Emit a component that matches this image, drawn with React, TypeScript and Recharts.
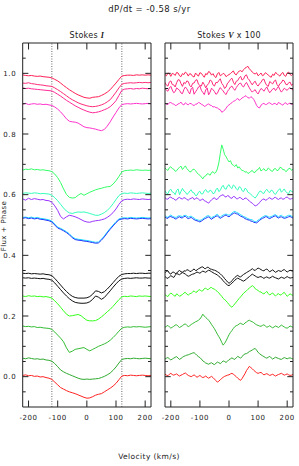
import React from 'react';
import { LineChart, Line, XAxis, YAxis, ReferenceLine } from 'recharts';

// ---------- data ----------
const velocityI = [
  -220, -210, -200, -190, -180, -170, -160, -150, -140, -130,
  -120, -110, -100, -90, -80, -70, -60, -50, -40, -30,
  -20, -10, 0, 10, 20, 30, 40, 50, 60, 70,
  80, 90, 100, 110, 120, 130, 140, 150, 160, 170,
  180, 190, 200, 210, 220,
];
const velocityV = [
  -220, -215, -210, -205, -200, -195, -190, -185, -180, -175,
  -170, -165, -160, -155, -150, -145, -140, -135, -130, -125,
  -120, -115, -110, -105, -100, -95, -90, -85, -80, -75,
  -70, -65, -60, -55, -50, -45, -40, -35, -30, -25,
  -20, -15, -10, -5, 0, 5, 10, 15, 20, 25,
  30, 35, 40, 45, 50, 55, 60, 65, 70, 75,
  80, 85, 90, 95, 100, 105, 110, 115, 120, 125,
  130, 135, 140, 145, 150, 155, 160, 165, 170, 175,
  180, 185, 190, 195, 200, 205, 210, 215, 220,
];

const xTicks = [-200, -100, 0, 100, 200];
const yTicks = [-0.05, 0, 0.05, 0.1, 0.15, 0.2, 0.25, 0.3, 0.35, 0.4, 0.45, 0.5, 0.55, 0.6, 0.65, 0.7, 0.75, 0.8, 0.85, 0.9, 0.95, 1, 1.05];
const vsiniMarks = [-120, 120];

const seriesColors = [
  '#ff1f55', '#ff2a78', '#ff2a96', '#ff33cc', '#33ff66', '#33ffbb', '#9933ff',
  '#22ddff', '#1a33ff', '#111111', '#111111', '#33ff1a', '#33bb33', '#2eaa2e', '#ff2222',
];

// Stokes I (flux + phase)
const i01 = [0.995, 0.993, 0.992, 0.993, 0.991, 0.990, 0.991, 0.989, 0.988, 0.987, 0.985, 0.980, 0.975, 0.968, 0.960, 0.953, 0.946, 0.940, 0.934, 0.929, 0.925, 0.921, 0.919, 0.918, 0.921, 0.922, 0.923, 0.927, 0.932, 0.938, 0.946, 0.957, 0.968, 0.980, 0.991, 0.993, 0.994, 0.994, 0.993, 0.995, 0.994, 0.995, 0.994, 0.995, 0.994];
const i02 = [0.968, 0.967, 0.969, 0.966, 0.965, 0.963, 0.962, 0.961, 0.959, 0.958, 0.957, 0.952, 0.946, 0.940, 0.933, 0.926, 0.919, 0.913, 0.908, 0.903, 0.899, 0.896, 0.893, 0.891, 0.890, 0.891, 0.893, 0.896, 0.900, 0.906, 0.913, 0.925, 0.938, 0.952, 0.964, 0.967, 0.968, 0.969, 0.968, 0.969, 0.970, 0.969, 0.970, 0.969, 0.970];
const i03 = [0.952, 0.950, 0.951, 0.949, 0.948, 0.947, 0.946, 0.945, 0.944, 0.943, 0.942, 0.937, 0.931, 0.925, 0.918, 0.911, 0.905, 0.899, 0.893, 0.888, 0.883, 0.879, 0.875, 0.872, 0.870, 0.871, 0.873, 0.876, 0.880, 0.884, 0.890, 0.899, 0.910, 0.927, 0.944, 0.948, 0.949, 0.950, 0.948, 0.950, 0.949, 0.951, 0.950, 0.949, 0.950];
const i04 = [0.898, 0.901, 0.897, 0.899, 0.900, 0.898, 0.899, 0.897, 0.898, 0.896, 0.894, 0.889, 0.882, 0.873, 0.862, 0.850, 0.842, 0.840, 0.839, 0.836, 0.830, 0.824, 0.821, 0.820, 0.818, 0.816, 0.813, 0.811, 0.815, 0.826, 0.840, 0.856, 0.871, 0.886, 0.897, 0.899, 0.900, 0.899, 0.900, 0.901, 0.900, 0.899, 0.900, 0.901, 0.900];
const i05 = [0.681, 0.684, 0.683, 0.685, 0.682, 0.683, 0.681, 0.682, 0.680, 0.679, 0.676, 0.668, 0.656, 0.640, 0.619, 0.601, 0.591, 0.589, 0.590, 0.598, 0.604, 0.598, 0.603, 0.608, 0.612, 0.616, 0.619, 0.621, 0.624, 0.626, 0.627, 0.635, 0.646, 0.660, 0.675, 0.679, 0.680, 0.681, 0.680, 0.682, 0.681, 0.680, 0.681, 0.680, 0.681];
const i06 = [0.604, 0.606, 0.605, 0.604, 0.606, 0.605, 0.603, 0.604, 0.603, 0.602, 0.598, 0.590, 0.580, 0.568, 0.556, 0.546, 0.540, 0.538, 0.541, 0.543, 0.542, 0.543, 0.541, 0.538, 0.535, 0.532, 0.532, 0.536, 0.541, 0.548, 0.558, 0.570, 0.584, 0.597, 0.604, 0.605, 0.604, 0.606, 0.605, 0.604, 0.605, 0.606, 0.605, 0.604, 0.605];
const i07 = [0.586, 0.582, 0.588, 0.584, 0.587, 0.585, 0.583, 0.584, 0.581, 0.580, 0.575, 0.563, 0.548, 0.528, 0.520, 0.527, 0.532, 0.530, 0.527, 0.523, 0.518, 0.513, 0.510, 0.509, 0.512, 0.514, 0.515, 0.517, 0.520, 0.525, 0.532, 0.541, 0.553, 0.568, 0.580, 0.584, 0.585, 0.584, 0.586, 0.585, 0.584, 0.586, 0.585, 0.584, 0.585];
const i08 = [0.525, 0.526, 0.524, 0.526, 0.523, 0.525, 0.522, 0.521, 0.519, 0.517, 0.513, 0.503, 0.493, 0.489, 0.484, 0.478, 0.471, 0.461, 0.455, 0.453, 0.452, 0.450, 0.449, 0.447, 0.445, 0.443, 0.444, 0.453, 0.464, 0.477, 0.489, 0.500, 0.511, 0.520, 0.523, 0.524, 0.523, 0.525, 0.524, 0.523, 0.524, 0.525, 0.524, 0.523, 0.524];
const i09 = [0.522, 0.524, 0.521, 0.523, 0.520, 0.522, 0.519, 0.518, 0.516, 0.514, 0.510, 0.500, 0.490, 0.486, 0.481, 0.475, 0.468, 0.458, 0.452, 0.450, 0.449, 0.447, 0.446, 0.444, 0.442, 0.440, 0.441, 0.450, 0.461, 0.474, 0.486, 0.497, 0.508, 0.517, 0.520, 0.521, 0.520, 0.522, 0.521, 0.520, 0.521, 0.522, 0.521, 0.520, 0.521];
const i10 = [0.341, 0.340, 0.341, 0.339, 0.340, 0.339, 0.338, 0.339, 0.337, 0.336, 0.333, 0.324, 0.313, 0.302, 0.291, 0.281, 0.272, 0.265, 0.261, 0.259, 0.259, 0.259, 0.260, 0.264, 0.272, 0.283, 0.281, 0.276, 0.280, 0.289, 0.299, 0.310, 0.321, 0.331, 0.337, 0.339, 0.340, 0.340, 0.341, 0.340, 0.341, 0.341, 0.340, 0.341, 0.341];
const i11 = [0.326, 0.325, 0.326, 0.324, 0.325, 0.324, 0.323, 0.324, 0.322, 0.321, 0.318, 0.309, 0.298, 0.287, 0.276, 0.266, 0.257, 0.250, 0.245, 0.243, 0.242, 0.242, 0.243, 0.247, 0.255, 0.266, 0.262, 0.255, 0.261, 0.272, 0.283, 0.295, 0.306, 0.316, 0.322, 0.324, 0.325, 0.324, 0.325, 0.326, 0.325, 0.325, 0.326, 0.325, 0.325];
const i12 = [0.266, 0.264, 0.267, 0.265, 0.266, 0.264, 0.265, 0.263, 0.264, 0.262, 0.259, 0.250, 0.240, 0.229, 0.217, 0.206, 0.200, 0.201, 0.203, 0.205, 0.201, 0.193, 0.186, 0.184, 0.184, 0.185, 0.190, 0.197, 0.205, 0.214, 0.222, 0.232, 0.243, 0.254, 0.263, 0.265, 0.264, 0.266, 0.265, 0.264, 0.266, 0.265, 0.266, 0.265, 0.264];
const i13 = [0.167, 0.165, 0.166, 0.164, 0.165, 0.162, 0.163, 0.161, 0.160, 0.159, 0.156, 0.147, 0.137, 0.127, 0.115, 0.095, 0.080, 0.084, 0.090, 0.092, 0.094, 0.096, 0.090, 0.085, 0.090, 0.095, 0.100, 0.104, 0.108, 0.113, 0.120, 0.129, 0.139, 0.150, 0.160, 0.163, 0.164, 0.163, 0.165, 0.164, 0.165, 0.164, 0.163, 0.164, 0.165];
const i14 = [0.061, 0.059, 0.062, 0.060, 0.058, 0.059, 0.057, 0.058, 0.055, 0.054, 0.051, 0.043, 0.033, 0.022, 0.016, 0.011, 0.007, 0.003, -0.001, -0.005, -0.008, -0.009, -0.008, -0.009, -0.008, -0.007, -0.006, -0.003, 0.001, 0.006, 0.012, 0.021, 0.032, 0.045, 0.057, 0.059, 0.060, 0.059, 0.061, 0.060, 0.059, 0.060, 0.061, 0.060, 0.059];
const i15 = [0.004, 0.006, 0.003, 0.004, 0.001, 0.002, -0.001, 0.000, -0.003, -0.005, -0.009, -0.018, -0.027, -0.036, -0.041, -0.046, -0.050, -0.053, -0.056, -0.060, -0.064, -0.068, -0.071, -0.070, -0.066, -0.061, -0.058, -0.056, -0.050, -0.044, -0.038, -0.031, -0.022, -0.010, 0.002, 0.004, 0.003, 0.005, 0.004, 0.003, 0.004, 0.005, 0.004, 0.003, 0.004];

// Stokes V x 100 (+ phase), sampled every 5 km/s
const v01 = [
  0.996, 0.992, 1.001, 0.999, 0.990, 1.000, 0.998, 0.993, 1.003, 1.001,
  0.992, 0.989, 0.999, 0.996, 1.004, 1.000, 0.991, 0.999, 0.997, 0.990,
  0.988, 1.001, 0.995, 0.991, 1.002, 1.000, 0.993, 0.987, 0.999, 0.996,
  1.006, 1.003, 0.994, 0.999, 0.990, 0.986, 0.998, 1.003, 0.992, 0.995,
  1.000, 0.997, 0.989, 0.993, 0.996, 0.999, 1.004, 1.008, 0.998, 0.995,
  1.003, 1.007, 1.009, 1.005, 1.012, 1.017, 1.020, 1.023, 1.015, 1.010,
  1.004, 1.000, 0.998, 1.002, 0.992, 0.996, 1.001, 0.992, 0.995, 1.002,
  0.999, 0.994, 0.990, 0.987, 0.997, 0.993, 1.003, 0.999, 0.994, 0.991,
  0.999, 1.003, 0.993, 0.990, 1.001, 1.004, 0.996, 0.993, 0.998,
];
const v02 = [
  0.970, 0.961, 0.958, 0.972, 0.975, 0.963, 0.962, 0.955, 0.969, 0.979,
  0.978, 0.966, 0.957, 0.970, 0.966, 0.975, 0.973, 0.960, 0.955, 0.967,
  0.968, 0.977, 0.979, 0.964, 0.960, 0.958, 0.971, 0.963, 0.952, 0.961,
  0.966, 0.978, 0.975, 0.962, 0.958, 0.970, 0.969, 0.976, 0.982, 0.967,
  0.961, 0.950, 0.955, 0.968, 0.972, 0.980, 0.984, 0.971, 0.963, 0.974,
  0.976, 0.985, 0.990, 0.978, 0.981, 0.992, 0.995, 0.983, 0.978, 0.969,
  0.962, 0.970, 0.974, 0.963, 0.958, 0.966, 0.970, 0.979, 0.981, 0.968,
  0.960, 0.957, 0.973, 0.969, 0.965, 0.974, 0.978, 0.963, 0.957, 0.966,
  0.969, 0.978, 0.975, 0.964, 0.962, 0.969, 0.971, 0.960, 0.966,
];
const v03 = [
  0.950, 0.944, 0.941, 0.952, 0.957, 0.945, 0.936, 0.940, 0.952, 0.948,
  0.944, 0.935, 0.933, 0.947, 0.955, 0.949, 0.940, 0.932, 0.949, 0.954,
  0.931, 0.939, 0.946, 0.955, 0.958, 0.944, 0.937, 0.930, 0.945, 0.952,
  0.929, 0.938, 0.951, 0.946, 0.940, 0.931, 0.934, 0.945, 0.953, 0.947,
  0.942, 0.934, 0.930, 0.941, 0.947, 0.955, 0.958, 0.950, 0.944, 0.953,
  0.960, 0.966, 0.968, 0.959, 0.955, 0.964, 0.970, 0.961, 0.952, 0.944,
  0.938, 0.943, 0.946, 0.937, 0.932, 0.942, 0.950, 0.947, 0.941, 0.949,
  0.955, 0.944, 0.936, 0.942, 0.948, 0.951, 0.943, 0.950, 0.957, 0.946,
  0.938, 0.944, 0.951, 0.947, 0.944, 0.950, 0.953, 0.948, 0.945,
];
const v04 = [
  0.902, 0.898, 0.897, 0.903, 0.904, 0.900, 0.899, 0.894, 0.895, 0.899,
  0.901, 0.905, 0.898, 0.896, 0.903, 0.899, 0.896, 0.901, 0.900, 0.896,
  0.894, 0.898, 0.899, 0.904, 0.902, 0.898, 0.896, 0.891, 0.893, 0.897,
  0.899, 0.895, 0.894, 0.889, 0.890, 0.887, 0.886, 0.882, 0.880, 0.872,
  0.874, 0.879, 0.885, 0.892, 0.896, 0.900, 0.903, 0.908, 0.909, 0.914,
  0.917, 0.911, 0.914, 0.919, 0.921, 0.926, 0.924, 0.920, 0.918, 0.923,
  0.920, 0.914, 0.905, 0.894, 0.888, 0.886, 0.895, 0.899, 0.901, 0.897,
  0.898, 0.902, 0.903, 0.899, 0.897, 0.901, 0.900, 0.896, 0.904, 0.901,
  0.898, 0.895, 0.901, 0.903, 0.897, 0.900, 0.902, 0.898, 0.899,
];
const v05 = [
  0.688, 0.683, 0.680, 0.689, 0.692, 0.686, 0.684, 0.677, 0.679, 0.686,
  0.690, 0.694, 0.683, 0.689, 0.695, 0.686, 0.681, 0.675, 0.676, 0.683,
  0.684, 0.679, 0.672, 0.667, 0.664, 0.658, 0.652, 0.660, 0.662, 0.669,
  0.668, 0.664, 0.673, 0.676, 0.670, 0.674, 0.685, 0.705, 0.735, 0.764,
  0.750, 0.732, 0.725, 0.716, 0.708, 0.712, 0.700, 0.697, 0.693, 0.699,
  0.688, 0.692, 0.684, 0.680, 0.679, 0.674, 0.676, 0.670, 0.672, 0.677,
  0.680, 0.673, 0.674, 0.681, 0.683, 0.690, 0.678, 0.682, 0.686, 0.679,
  0.680, 0.688, 0.684, 0.678, 0.677, 0.685, 0.686, 0.679, 0.681, 0.690,
  0.689, 0.682, 0.683, 0.676, 0.679, 0.686, 0.687, 0.680, 0.684,
];
const v06 = [
  0.612, 0.605, 0.603, 0.614, 0.618, 0.609, 0.607, 0.600, 0.614, 0.619,
  0.600, 0.611, 0.621, 0.612, 0.609, 0.601, 0.604, 0.612, 0.616, 0.607,
  0.606, 0.597, 0.598, 0.608, 0.611, 0.602, 0.603, 0.613, 0.617, 0.609,
  0.608, 0.615, 0.612, 0.603, 0.605, 0.616, 0.622, 0.610, 0.614, 0.625,
  0.631, 0.620, 0.618, 0.629, 0.633, 0.624, 0.620, 0.632, 0.628, 0.619,
  0.615, 0.626, 0.624, 0.613, 0.610, 0.621, 0.618, 0.608, 0.605, 0.601,
  0.597, 0.592, 0.589, 0.595, 0.603, 0.611, 0.612, 0.605, 0.604, 0.613,
  0.618, 0.610, 0.607, 0.615, 0.613, 0.604, 0.601, 0.609, 0.615, 0.620,
  0.608, 0.613, 0.619, 0.610, 0.606, 0.603, 0.614, 0.611, 0.609,
];
const v07 = [
  0.590, 0.586, 0.585, 0.591, 0.592, 0.588, 0.587, 0.582, 0.583, 0.589,
  0.591, 0.587, 0.586, 0.590, 0.589, 0.584, 0.582, 0.586, 0.588, 0.591,
  0.584, 0.587, 0.590, 0.585, 0.581, 0.583, 0.586, 0.580, 0.578, 0.575,
  0.572, 0.578, 0.583, 0.587, 0.590, 0.584, 0.585, 0.591, 0.596, 0.598,
  0.600, 0.594, 0.592, 0.597, 0.595, 0.589, 0.588, 0.594, 0.593, 0.587,
  0.586, 0.591, 0.590, 0.585, 0.584, 0.589, 0.588, 0.583, 0.579, 0.575,
  0.572, 0.567, 0.563, 0.565, 0.568, 0.574, 0.580, 0.584, 0.586, 0.582,
  0.583, 0.588, 0.590, 0.586, 0.585, 0.590, 0.591, 0.587, 0.584, 0.588,
  0.589, 0.585, 0.586, 0.591, 0.592, 0.588, 0.585, 0.587, 0.589,
];
const v08 = [
  0.531, 0.527, 0.525, 0.530, 0.533, 0.529, 0.527, 0.525, 0.526, 0.530,
  0.530, 0.529, 0.528, 0.531, 0.532, 0.530, 0.526, 0.528, 0.529, 0.526,
  0.523, 0.519, 0.517, 0.516, 0.515, 0.517, 0.520, 0.524, 0.527, 0.530,
  0.531, 0.527, 0.524, 0.527, 0.529, 0.533, 0.535, 0.531, 0.526, 0.530,
  0.533, 0.535, 0.536, 0.534, 0.532, 0.535, 0.539, 0.543, 0.545, 0.542,
  0.540, 0.537, 0.534, 0.531, 0.528, 0.526, 0.524, 0.521, 0.519, 0.518,
  0.517, 0.513, 0.511, 0.512, 0.516, 0.519, 0.523, 0.526, 0.529, 0.531,
  0.530, 0.527, 0.526, 0.528, 0.530, 0.533, 0.534, 0.530, 0.527, 0.530,
  0.532, 0.528, 0.526, 0.527, 0.530, 0.532, 0.532, 0.529, 0.528,
];
const v09 = [
  0.526, 0.523, 0.522, 0.527, 0.528, 0.525, 0.524, 0.520, 0.521, 0.525,
  0.527, 0.524, 0.523, 0.528, 0.529, 0.524, 0.521, 0.523, 0.525, 0.521,
  0.518, 0.515, 0.514, 0.512, 0.510, 0.513, 0.516, 0.520, 0.522, 0.525,
  0.527, 0.522, 0.519, 0.523, 0.525, 0.529, 0.530, 0.526, 0.522, 0.525,
  0.528, 0.531, 0.533, 0.529, 0.527, 0.531, 0.535, 0.538, 0.540, 0.537,
  0.536, 0.532, 0.529, 0.527, 0.525, 0.521, 0.519, 0.517, 0.516, 0.513,
  0.512, 0.509, 0.508, 0.507, 0.511, 0.515, 0.519, 0.522, 0.524, 0.527,
  0.527, 0.523, 0.521, 0.524, 0.526, 0.529, 0.530, 0.526, 0.523, 0.526,
  0.527, 0.524, 0.522, 0.523, 0.525, 0.527, 0.528, 0.525, 0.523,
];
const v10 = [
  0.343, 0.347, 0.349, 0.341, 0.338, 0.344, 0.345, 0.340, 0.341, 0.347,
  0.350, 0.346, 0.344, 0.349, 0.348, 0.352, 0.352, 0.347, 0.347, 0.352,
  0.355, 0.350, 0.351, 0.356, 0.358, 0.361, 0.362, 0.357, 0.356, 0.361,
  0.360, 0.355, 0.354, 0.352, 0.351, 0.349, 0.346, 0.343, 0.339, 0.334,
  0.330, 0.323, 0.318, 0.312, 0.308, 0.311, 0.316, 0.322, 0.327, 0.331,
  0.334, 0.330, 0.329, 0.333, 0.337, 0.340, 0.343, 0.346, 0.349, 0.352,
  0.356, 0.352, 0.350, 0.355, 0.358, 0.356, 0.353, 0.350, 0.349, 0.353,
  0.355, 0.350, 0.346, 0.349, 0.352, 0.348, 0.344, 0.347, 0.350, 0.348,
  0.347, 0.351, 0.353, 0.349, 0.345, 0.348, 0.351, 0.349, 0.348,
];
const v11 = [
  0.330, 0.326, 0.324, 0.329, 0.333, 0.330, 0.327, 0.334, 0.340, 0.338,
  0.336, 0.340, 0.343, 0.341, 0.338, 0.334, 0.331, 0.333, 0.336, 0.338,
  0.339, 0.342, 0.345, 0.343, 0.341, 0.345, 0.348, 0.346, 0.344, 0.348,
  0.351, 0.349, 0.346, 0.343, 0.340, 0.338, 0.335, 0.331, 0.327, 0.322,
  0.316, 0.311, 0.306, 0.302, 0.300, 0.304, 0.308, 0.313, 0.318, 0.322,
  0.325, 0.322, 0.320, 0.317, 0.315, 0.318, 0.322, 0.326, 0.330, 0.334,
  0.338, 0.335, 0.332, 0.329, 0.327, 0.329, 0.330, 0.327, 0.324, 0.327,
  0.329, 0.326, 0.325, 0.328, 0.331, 0.328, 0.326, 0.324, 0.322, 0.325,
  0.328, 0.326, 0.324, 0.327, 0.330, 0.327, 0.325, 0.326, 0.327,
];
const v12 = [
  0.270, 0.267, 0.264, 0.271, 0.276, 0.272, 0.268, 0.265, 0.273, 0.270,
  0.265, 0.268, 0.271, 0.276, 0.278, 0.272, 0.269, 0.273, 0.275, 0.279,
  0.283, 0.278, 0.279, 0.285, 0.287, 0.282, 0.283, 0.290, 0.292, 0.287,
  0.288, 0.293, 0.294, 0.290, 0.289, 0.284, 0.281, 0.276, 0.270, 0.265,
  0.258, 0.254, 0.250, 0.244, 0.238, 0.232, 0.229, 0.234, 0.240, 0.246,
  0.252, 0.258, 0.263, 0.269, 0.275, 0.279, 0.283, 0.288, 0.292, 0.296,
  0.300, 0.297, 0.290, 0.287, 0.284, 0.280, 0.279, 0.275, 0.273, 0.277,
  0.281, 0.274, 0.269, 0.273, 0.276, 0.270, 0.266, 0.271, 0.274, 0.269,
  0.270, 0.275, 0.278, 0.271, 0.265, 0.269, 0.273, 0.270, 0.268,
];
const v13 = [
  0.163, 0.166, 0.169, 0.164, 0.160, 0.163, 0.166, 0.170, 0.171, 0.166,
  0.162, 0.165, 0.168, 0.172, 0.174, 0.169, 0.165, 0.168, 0.172, 0.175,
  0.178, 0.181, 0.183, 0.186, 0.190, 0.197, 0.206, 0.200, 0.195, 0.191,
  0.186, 0.180, 0.172, 0.165, 0.158, 0.149, 0.140, 0.132, 0.124, 0.113,
  0.104, 0.110, 0.118, 0.128, 0.138, 0.146, 0.152, 0.159, 0.165, 0.168,
  0.170, 0.174, 0.176, 0.173, 0.172, 0.177, 0.180, 0.184, 0.186, 0.183,
  0.181, 0.178, 0.174, 0.171, 0.169, 0.167, 0.166, 0.169, 0.171, 0.167,
  0.163, 0.165, 0.168, 0.164, 0.161, 0.164, 0.167, 0.165, 0.162, 0.166,
  0.170, 0.167, 0.164, 0.161, 0.160, 0.163, 0.167, 0.165, 0.163,
];
const v14 = [
  0.058, 0.061, 0.063, 0.059, 0.055, 0.058, 0.061, 0.064, 0.066, 0.061,
  0.057, 0.060, 0.064, 0.067, 0.069, 0.071, 0.072, 0.074, 0.076, 0.078,
  0.079, 0.075, 0.070, 0.066, 0.063, 0.058, 0.052, 0.049, 0.045, 0.043,
  0.041, 0.044, 0.046, 0.042, 0.040, 0.044, 0.048, 0.046, 0.043, 0.047,
  0.052, 0.050, 0.047, 0.051, 0.056, 0.059, 0.062, 0.059, 0.057, 0.062,
  0.067, 0.064, 0.061, 0.066, 0.072, 0.075, 0.076, 0.079, 0.083, 0.085,
  0.088, 0.091, 0.093, 0.087, 0.080, 0.076, 0.072, 0.069, 0.066, 0.063,
  0.061, 0.064, 0.067, 0.062, 0.058, 0.061, 0.064, 0.062, 0.060, 0.058,
  0.057, 0.060, 0.063, 0.061, 0.059, 0.061, 0.062, 0.060, 0.058,
];
const v15 = [
  0.008, 0.005, 0.003, 0.008, 0.011, 0.007, 0.005, 0.007, 0.009, 0.005,
  0.002, 0.005, 0.007, 0.010, 0.012, 0.008, 0.004, 0.002, 0.000, 0.003,
  0.006, 0.002, -0.002, 0.001, 0.004, 0.000, -0.003, -0.001, 0.002, -0.002,
  -0.005, -0.002, 0.001, -0.003, -0.008, -0.013, -0.018, -0.015, -0.010, -0.006,
  -0.002, 0.001, 0.003, 0.005, 0.006, 0.009, 0.011, 0.008, 0.004, 0.000,
  -0.005, -0.009, -0.012, -0.006, 0.002, 0.010, 0.020, 0.027, 0.034, 0.030,
  0.026, 0.021, 0.017, 0.013, 0.011, 0.013, 0.014, 0.010, 0.006, 0.008,
  0.010, 0.007, 0.004, 0.006, 0.008, 0.005, 0.002, 0.005, 0.007, 0.009,
  0.011, 0.008, 0.005, 0.007, 0.009, 0.006, 0.004, 0.005, 0.007,
];

const stokesI = [i01, i02, i03, i04, i05, i06, i07, i08, i09, i10, i11, i12, i13, i14, i15];
const stokesV = [v01, v02, v03, v04, v05, v06, v07, v08, v09, v10, v11, v12, v13, v14, v15];

function buildRows(vel: number[], profiles: number[][]) {
  return vel.map((v, k) => {
    const row: Record<string, number> = { v };
    profiles.forEach((p, j) => {
      row['s' + j] = p[k];
    });
    return row;
  });
}

const rowsI = buildRows(velocityI, stokesI);
const rowsV = buildRows(velocityV, stokesV);

// ---------- styling ----------
const FONT = '"DejaVu Sans", sans-serif';
const INK = '#222';
const W = 299;
const H = 466;
const PLOT_TOP = 43;
const PLOT_BOTTOM = 407;
const AX = 1; // axis band size (must be > 0 for axes to render)

const isMajorY = (v: number) => Math.round(v * 100) % 20 === 0;

function BottomTick(props: any) {
  const { x, y, payload } = props;
  return (
    <g>
      <line x1={x} y1={y} x2={x} y2={y - 6.5} stroke={INK} strokeWidth={1} />
      <text x={x} y={y + 12.5} textAnchor="middle" fontSize={7} fontFamily={FONT} fill={INK} letterSpacing={0.6}>
        {String(payload.value)}
      </text>
    </g>
  );
}

function TopTick(props: any) {
  const { x, y } = props;
  return <line x1={x} y1={y} x2={x} y2={y + 6.5} stroke={INK} strokeWidth={1} />;
}

function LeftTick(props: any) {
  const { x, y, payload, showLabels } = props;
  const major = isMajorY(payload.value);
  return (
    <g>
      <line x1={x} y1={y} x2={x + (major ? 5.7 : 3)} y2={y} stroke={INK} strokeWidth={1} />
      {showLabels && major ? (
        <text x={x - 6.5} y={y + 2.5} textAnchor="end" fontSize={7} fontFamily={FONT} fill={INK} letterSpacing={0.6}>
          {Number(payload.value).toFixed(1)}
        </text>
      ) : null}
    </g>
  );
}

function RightTick(props: any) {
  const { x, y, payload } = props;
  const major = isMajorY(payload.value);
  return <line x1={x} y1={y} x2={x - (major ? 5.7 : 3)} y2={y} stroke={INK} strokeWidth={1} />;
}

function Panel(props: { rows: any[]; plotLeft: number; plotRight: number; labels: boolean; marks: number[] }) {
  const { rows, plotLeft, plotRight, labels, marks } = props;
  const margin = {
    top: PLOT_TOP - AX,
    bottom: H - PLOT_BOTTOM - AX,
    left: plotLeft - AX,
    right: W - plotRight - AX,
  };
  return (
    <div style={{ position: 'absolute', left: 0, top: 0 }}>
      <LineChart width={W} height={H} data={rows} margin={margin}>
        <XAxis xAxisId="b" dataKey="v" type="number" domain={[-220, 220]} allowDataOverflow ticks={xTicks} interval={0}
          height={AX} tickSize={0} tickMargin={0} tickLine={false} axisLine={{ stroke: INK, strokeWidth: 1 }}
          tick={(p: any) => <BottomTick {...p} />} />
        <XAxis xAxisId="t" orientation="top" dataKey="v" type="number" domain={[-220, 220]} allowDataOverflow ticks={xTicks} interval={0}
          height={AX} tickSize={0} tickMargin={0} tickLine={false} axisLine={{ stroke: INK, strokeWidth: 1 }}
          tick={(p: any) => <TopTick {...p} />} />
        <YAxis yAxisId="l" type="number" domain={[-0.1, 1.1]} allowDataOverflow ticks={yTicks} interval={0}
          width={AX} tickSize={0} tickMargin={0} tickLine={false} axisLine={{ stroke: INK, strokeWidth: 1 }}
          tick={(p: any) => <LeftTick {...p} showLabels={labels} />} />
        <YAxis yAxisId="r" orientation="right" type="number" domain={[-0.1, 1.1]} allowDataOverflow ticks={yTicks} interval={0}
          width={AX} tickSize={0} tickMargin={0} tickLine={false} axisLine={{ stroke: INK, strokeWidth: 1 }}
          tick={(p: any) => <RightTick {...p} />} />
        {marks.map((m) => (
          <ReferenceLine key={'m' + m} xAxisId="b" yAxisId="l" x={m} stroke="#444" strokeWidth={0.8} strokeDasharray="1 1.5" />
        ))}
        {seriesColors.map((c, j) => (
          <Line key={'s' + j} xAxisId="b" yAxisId="l" dataKey={'s' + j} stroke={c} strokeWidth={1} dot={false}
            activeDot={false} isAnimationActive={false} type="linear" />
        ))}
      </LineChart>
    </div>
  );
}

export default function App() {
  return (
    <div style={{ position: 'absolute', left: 0, top: 0, width: W, height: H, background: '#fff', overflow: 'hidden' }}>
      <Panel rows={rowsI} plotLeft={22.7} plotRight={151} labels={true} marks={vsiniMarks} />
      <Panel rows={rowsV} plotLeft={165} plotRight={293} labels={false} marks={[]} />
      <svg width={W} height={H} style={{ position: 'absolute', left: 0, top: 0, pointerEvents: 'none' }}>
        <text x={149.5} y={12} textAnchor="middle" fontSize={8.5} fontFamily={FONT} fill={INK} letterSpacing={0.4}>
          dP/dt = -0.58 s/yr
        </text>
        <text x={86.9} y={38} textAnchor="middle" fontSize={8} fontFamily={FONT} fill={INK} letterSpacing={0.3}>
          Stokes <tspan fontFamily='"Liberation Serif", serif' fontWeight="bold" fontStyle="italic">I</tspan>
        </text>
        <text x={229} y={38} textAnchor="middle" fontSize={8} fontFamily={FONT} fill={INK} letterSpacing={0.3}>
          Stokes <tspan fontFamily='"Liberation Serif", serif' fontWeight="bold" fontStyle="italic">V</tspan> x 100
        </text>
        <text x={149} y={459} textAnchor="middle" fontSize={7.5} fontFamily={FONT} fill={INK} letterSpacing={0.4}>
          Velocity (km/s)
        </text>
        <text x={5.5} y={226} textAnchor="middle" fontSize={7} fontFamily={FONT} fill={INK} letterSpacing={0.4}
          transform="rotate(-90 5.5 226)">
          Flux + Phase
        </text>
      </svg>
    </div>
  );
}
